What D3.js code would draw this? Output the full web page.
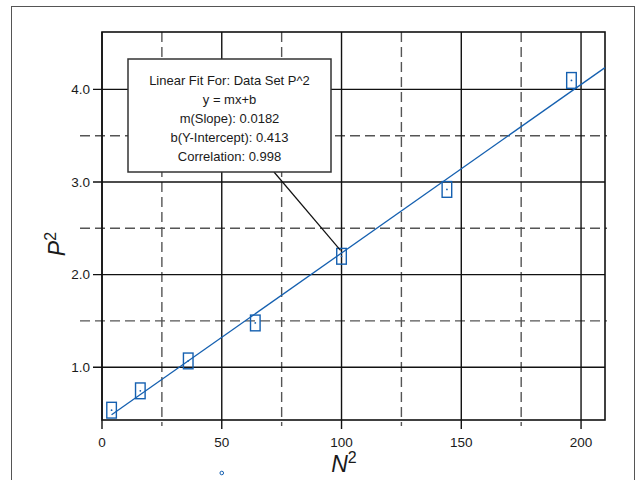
<!DOCTYPE html>
<html lang="en">
<head>
  <meta charset="UTF-8">
  <style>
    body { margin: 0; overflow: hidden; background: #fff; }
    svg { display: block; }
    text { font-family: "Liberation Sans", Arial, sans-serif; fill: #1a1a1a; }
    .major { stroke: #111; stroke-width: 1.4; }
    .minor { stroke: #555; stroke-width: 1.4; stroke-dasharray: 10, 5; }
    .fit { stroke: #1560b0; stroke-width: 1.3; fill: none; }
    .errbox { fill: none; stroke: #1560b0; stroke-width: 1.4; }
  </style>
  <script src="https://d3js.org/d3.v7.min.js"></script>
</head>
<body>
<svg id="chart"></svg>
<script>
  // data: N^2 vs P^2
  const nSquared = [4, 16, 36, 64, 100, 144, 196];
  const pSquared = [0.536, 0.745, 1.068, 1.478, 2.198, 2.92, 4.097];
  const xErr = 2;
  const yErr = 0.085;

  const xMajor = [0, 50, 100, 150, 200];
  const xMinor = [25, 75, 125, 175];
  const yMajor = [1.0, 2.0, 3.0, 4.0];
  const yMinor = [1.5, 2.5, 3.5];

  const slope = 0.0182, intercept = 0.413;
  const fitLines = [
    "Linear Fit For: Data Set P^2",
    "y = mx+b",
    "m(Slope): 0.0182",
    "b(Y-Intercept): 0.413",
    "Correlation: 0.998"
  ];

  const width = 638, height = 480;
  const svg = d3.select("#chart").attr("width", width).attr("height", height);

  // outer frame
  svg.append("rect")
    .attr("x", 11.5).attr("y", 6.5)
    .attr("width", 623).attr("height", 480)
    .attr("fill", "none").attr("stroke", "#555").attr("stroke-width", 1);

  const pLeft = 102, pRight = 605, pTop = 32, pBottom = 420;
  const x = d3.scaleLinear().domain([0, 210]).range([pLeft, pRight]);
  const y = d3.scaleLinear().domain([0.43, 4.62]).range([pBottom, pTop]);

  const grid = svg.append("g");

  // minor (dashed) grid lines, extending past the frame as ticks
  grid.selectAll(".vminor").data(xMinor).join("line")
    .attr("class", "minor")
    .attr("x1", d => x(d)).attr("x2", d => x(d))
    .attr("y1", pTop).attr("y2", pBottom + 6);
  grid.selectAll(".hminor").data(yMinor).join("line")
    .attr("class", "minor")
    .attr("x1", pLeft - 22).attr("x2", pRight + 2)
    .attr("y1", d => y(d)).attr("y2", d => y(d));

  // major (solid) grid lines with ticks
  grid.selectAll(".vmajor").data(xMajor).join("line")
    .attr("class", "major")
    .attr("x1", d => x(d)).attr("x2", d => x(d))
    .attr("y1", pTop).attr("y2", pBottom + 9);
  grid.selectAll(".hmajor").data(yMajor).join("line")
    .attr("class", "major")
    .attr("x1", pLeft - 9).attr("x2", pRight)
    .attr("y1", d => y(d)).attr("y2", d => y(d));

  // plot frame
  svg.append("rect")
    .attr("x", pLeft).attr("y", pTop)
    .attr("width", pRight - pLeft).attr("height", pBottom - pTop)
    .attr("fill", "none").attr("stroke", "#111").attr("stroke-width", 1.6);

  // tick labels
  svg.selectAll(".xlab").data(xMajor).join("text")
    .attr("x", d => x(d)).attr("y", pBottom + 27)
    .attr("text-anchor", "middle").attr("font-size", 13.5)
    .text(d => d);
  svg.selectAll(".ylab").data(yMajor).join("text")
    .attr("x", pLeft - 12).attr("y", d => y(d) + 4.5)
    .attr("text-anchor", "end").attr("font-size", 13.5)
    .text(d => d3.format(".1f")(d));

  // axis titles
  const xt = svg.append("text")
    .attr("x", 344).attr("y", 472)
    .attr("text-anchor", "middle").attr("font-size", 23).attr("font-style", "italic");
  xt.append("tspan").text("N");
  xt.append("tspan").attr("dy", -9).attr("font-size", 16).attr("font-style", "normal").text("2");

  const yt = svg.append("text")
    .attr("transform", "translate(65,244) rotate(-90)")
    .attr("text-anchor", "middle").attr("font-size", 23).attr("font-style", "italic");
  yt.append("tspan").text("P");
  yt.append("tspan").attr("dy", -9).attr("font-size", 16).attr("font-style", "normal").text("2");

  // fit line
  svg.append("line")
    .attr("class", "fit")
    .attr("x1", x(nSquared[0])).attr("y1", y(slope * nSquared[0] + intercept))
    .attr("x2", x(210)).attr("y2", y(slope * 210 + intercept));

  // error boxes with centre dots
  const pts = nSquared.map((n, i) => ({ n, p: pSquared[i] }));
  svg.selectAll(".errbox").data(pts).join("rect")
    .attr("class", "errbox")
    .attr("x", d => x(d.n - xErr)).attr("y", d => y(d.p + yErr))
    .attr("width", d => x(d.n + xErr) - x(d.n - xErr))
    .attr("height", d => y(d.p - yErr) - y(d.p + yErr));
  svg.selectAll(".dot").data(pts).join("circle")
    .attr("cx", d => x(d.n)).attr("cy", d => y(d.p))
    .attr("r", 0.9).attr("fill", "#1560b0");

  // annotation callout
  const box = { x: 128, y: 59, w: 203, h: 113 };
  svg.append("line")
    .attr("x1", 274).attr("y1", box.y + box.h)
    .attr("x2", x(nSquared[4]) - 1).attr("y2", y(pSquared[4]) - 6)
    .attr("stroke", "#111").attr("stroke-width", 1.2);
  svg.append("rect")
    .attr("x", box.x).attr("y", box.y).attr("width", box.w).attr("height", box.h)
    .attr("fill", "#fff").attr("stroke", "#333").attr("stroke-width", 1.5);
  svg.selectAll(".fitlab").data(fitLines).join("text")
    .attr("x", box.x + box.w / 2).attr("y", (d, i) => box.y + 26 + i * 19)
    .attr("text-anchor", "middle").attr("font-size", 13)
    .text(d => d);

  // small legend marker below the axis
  svg.append("circle")
    .attr("cx", x(50)).attr("cy", 473).attr("r", 1.8)
    .attr("fill", "none").attr("stroke", "#1560b0").attr("stroke-width", 1);
</script>
</body>
</html>
